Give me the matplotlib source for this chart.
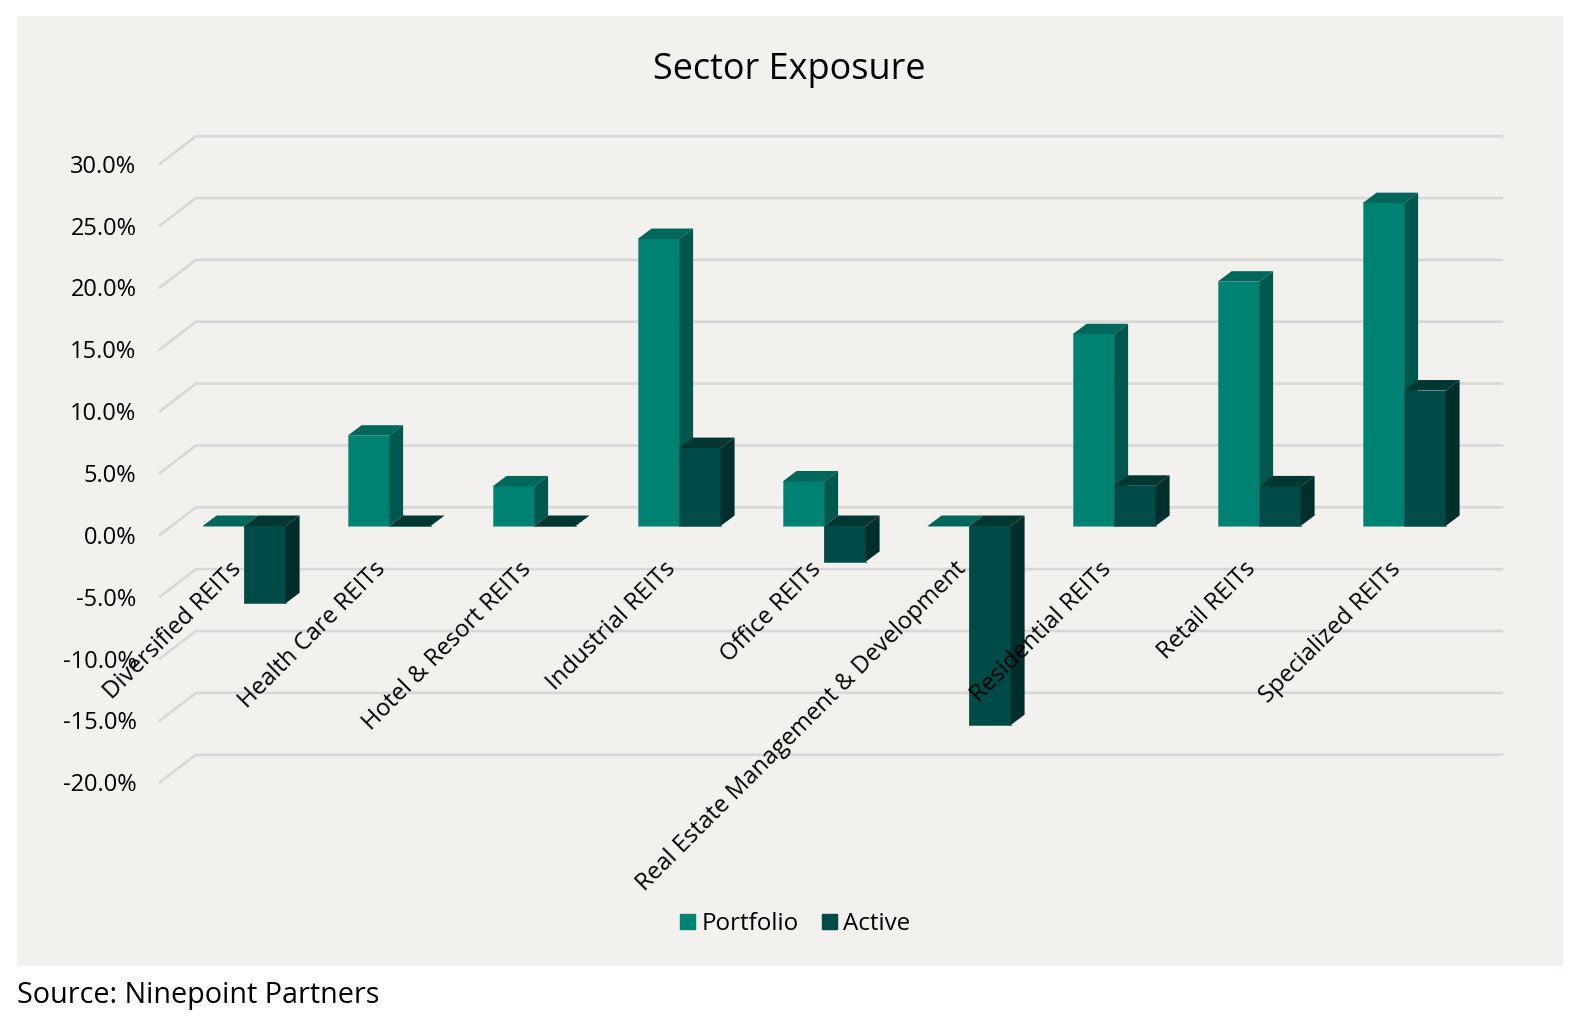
import matplotlib
matplotlib.use('Agg')
import matplotlib.pyplot as plt
from matplotlib.patches import Patch, Polygon, Rectangle
import numpy as np

#data
categories = ['Diversified REITs', 'Health Care REITs', 'Hotel & Resort REITs', 'Industrial REITs',
              'Office REITs', 'Real Estate Management & Development', 'Residential REITs',
              'Retail REITs', 'Specialized REITs']
portfolio = [0.0, 7.3, 3.2, 23.2, 3.6, 0.0, 15.5, 19.75, 26.1]
active = [-6.25, 0.0, 0.0, 6.3, -2.9, -16.1, 3.25, 3.2, 10.95]
y_ticks = [30, 25, 20, 15, 10, 5, 0, -5, -10, -15, -20]

W, H = 1578, 1022
x_px = 145.0   # pixels for one category
y_px = 12.37   # pixels for one percent
x0_px, y0_px = 244.1, 526.0
bar_w = 41.5 / x_px
dx, dy = 14 / x_px, 10.5 / y_px
grid_front, grid_back = 8.8 / y_px, 18.7 / y_px

plt.rcParams['font.family'] = ['Open Sans', 'DejaVu Sans']
text_col = '#000000'

fig = plt.figure(figsize=(W / 100, H / 100), dpi=100, facecolor='white')
fig.add_artist(Rectangle((17 / W, 1 - 966 / H), (1563 - 17) / W, (966 - 16) / H,
                         transform=fig.transFigure, fc='#f2f1ee', ec='none', zorder=-1))
ax = fig.add_axes([0, 0, 1, 1], facecolor='none')
ax.set_xlim(-x0_px / x_px, (W - x0_px) / x_px)
ax.set_ylim((y0_px - H) / y_px, y0_px / y_px)
for s in ax.spines.values():
    s.set_visible(False)

# gridlines on the back wall with the short slanted piece on the left
xl_front, xl_back, xr_back = (160 - x0_px) / x_px, (196 - x0_px) / x_px, (1502 - x0_px) / x_px
for v in y_ticks:
    ax.plot([xl_front, xl_back, xr_back], [v - grid_front, v + grid_back, v + grid_back],
            color='#d9d8d8', lw=1.9, solid_joinstyle='miter', zorder=1)


def bar3d(x, v, front, top, side, edge, z):
    lo, hi = min(0, v), max(0, v)
    ax.bar(x, hi - lo, bar_w, bottom=lo, align='edge', color=front, linewidth=0, zorder=z)
    r = x + bar_w
    ax.add_patch(Polygon([(x, hi), (r, hi), (r + dx, hi + dy), (x + dx, hi + dy)], fc=top, ec='none', zorder=z))
    ax.add_patch(Polygon([(r, lo), (r + dx, lo + dy), (r + dx, hi + dy), (r, hi)], fc=side, ec='none', zorder=z))
    # thin light rim on the left and bottom of the front face
    ax.plot([x, x, r], [hi, lo, lo], color=edge, lw=0.6, zorder=z)


pos = np.arange(len(categories))
for i in pos:
    bar3d(i - bar_w, portfolio[i], '#008272', '#00675b', '#00574d', '#5fa89f', 2 + 2 * i)
    bar3d(i, active[i], '#004b47', '#003733', '#002e2d', '#1f5f5a', 3 + 2 * i)

# axis labels, real ticks with the spines moved to where the text sits
ax.spines['bottom'].set_position(('data', (y0_px - 557) / y_px))
ax.spines['left'].set_position(('data', (136.5 - x0_px) / x_px))
ax.set_xticks(pos - 15 / x_px, categories, rotation=45, ha='right', va='top', rotation_mode='anchor',
              fontsize=17.2, color=text_col)
ax.set_yticks([v - grid_front for v in y_ticks], ['%.1f%%' % v for v in y_ticks],
              fontsize=17, color=text_col)
ax.tick_params(length=0, pad=0)
ax.xaxis.set_zorder(30)
ax.yaxis.set_zorder(30)

fig.text(789.5 / W, 1 - 70 / H, 'Sector Exposure', ha='center', va='center', fontsize=25.9, color=text_col)
fig.text(17 / W, 1 - 995 / H, 'Source: Ninepoint Partners', ha='left', va='center', fontsize=20.7, color='black')

handles = [Patch(color='#008272', label='Portfolio'), Patch(color='#004b47', label='Active')]
ax.legend(handles=handles, loc='center', bbox_to_anchor=(795 / W, 1 - 924 / H), bbox_transform=fig.transFigure,
          ncol=2, frameon=False, fontsize=17.4, handlelength=0.62, handleheight=0.62, handletextpad=0.25,
          columnspacing=0.95, labelcolor=text_col)

fig.savefig('out.png', dpi=100)
